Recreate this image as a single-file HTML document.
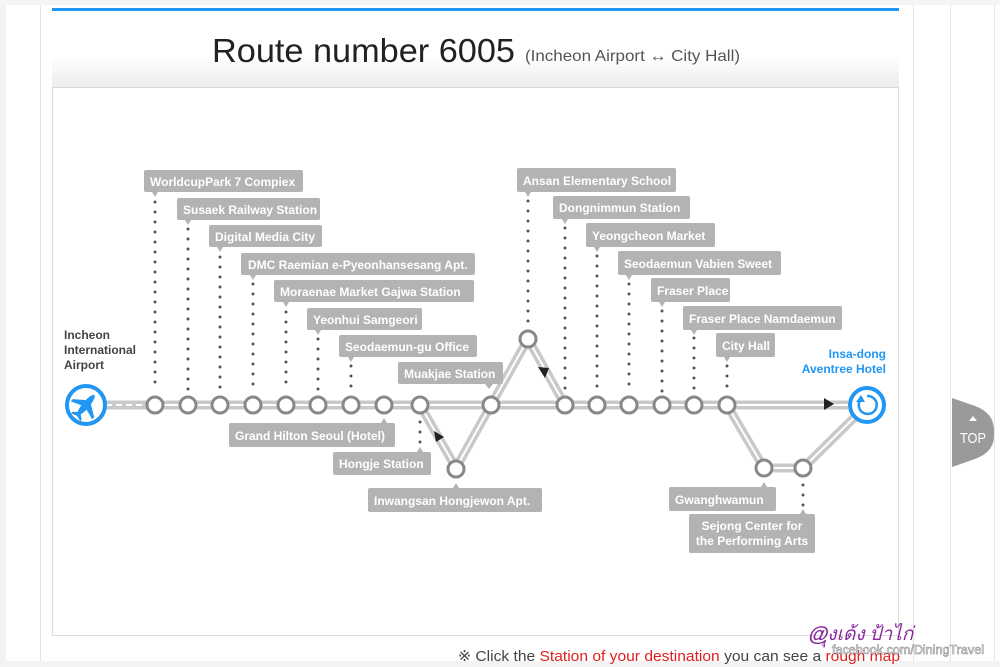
<!DOCTYPE html>
<html><head><meta charset="utf-8"><style>
html,body{margin:0;padding:0;background:#fff;}
body{width:1000px;height:667px;overflow:hidden;position:relative;font-family:"Liberation Sans",sans-serif;}
</style></head><body>
<svg width="1000" height="667" viewBox="0 0 1000 667" xmlns="http://www.w3.org/2000/svg" style="position:absolute;left:0;top:0">
<defs>
<linearGradient id="hg" x1="0" y1="0" x2="0" y2="1">
<stop offset="0" stop-color="#fff"/><stop offset="0.6" stop-color="#fff"/><stop offset="1" stop-color="#ececec"/>
</linearGradient>
</defs>
<rect x="0" y="0" width="1000" height="667" fill="#fff"/>
<rect x="0" y="0" width="6" height="667" fill="#f3f3f3"/>
<line x1="40.5" y1="0" x2="40.5" y2="662" stroke="#e2e2e2"/>
<line x1="913.5" y1="0" x2="913.5" y2="662" stroke="#e2e2e2"/>
<line x1="950.5" y1="0" x2="950.5" y2="662" stroke="#e6e6e6"/>
<line x1="994.5" y1="0" x2="994.5" y2="662" stroke="#e6e6e6"/>
<rect x="0" y="661" width="1000" height="6" fill="#f3f3f3"/>
<rect x="0" y="0" width="1000" height="5" fill="#f5f5f5"/>
<rect x="52.5" y="8.5" width="846" height="627" fill="#fff" stroke="#dcdcdc"/>
<rect x="52" y="11" width="847" height="76" fill="url(#hg)"/>
<rect x="52" y="8" width="847" height="3" fill="#2196f3"/>
<line x1="52" y1="87.5" x2="899" y2="87.5" stroke="#d8d8d8"/>
<text x="212" y="62" font-size="33" fill="#222" textLength="303" lengthAdjust="spacingAndGlyphs">Route number 6005</text>
<text x="525" y="61" font-size="16" fill="#555" textLength="215" lengthAdjust="spacingAndGlyphs">(Incheon Airport ↔ City Hall)</text>

<g stroke="#555" stroke-width="3" stroke-linecap="round" stroke-dasharray="0 10" fill="none">
<line x1="155" y1="202" x2="155" y2="392"/>
<line x1="188" y1="229" x2="188" y2="392"/>
<line x1="220" y1="257" x2="220" y2="392"/>
<line x1="253" y1="284" x2="253" y2="392"/>
<line x1="286" y1="312" x2="286" y2="392"/>
<line x1="318" y1="339" x2="318" y2="392"/>
<line x1="351" y1="366" x2="351" y2="392"/>
<line x1="528" y1="201" x2="528" y2="325"/>
<line x1="565" y1="228" x2="565" y2="392"/>
<line x1="597" y1="256" x2="597" y2="392"/>
<line x1="629" y1="284" x2="629" y2="392"/>
<line x1="662" y1="311" x2="662" y2="392"/>
<line x1="694" y1="338" x2="694" y2="392"/>
<line x1="727" y1="366" x2="727" y2="392"/>
<line x1="420" y1="422" x2="420" y2="445"/>
<line x1="803" y1="485" x2="803" y2="508"/>
</g>

<g fill="none" stroke-linejoin="round">
<g stroke="#c9c9c9" stroke-width="9">
<line x1="106" y1="405" x2="155" y2="405"/>
<polyline points="155,405 848,405"/>
<polyline points="420,405 456,468 491,405 528,339 565,405"/>
<polyline points="727,405 764,468 803,468 867,405"/>
</g>
<g stroke="#fff" stroke-width="2">
<line x1="106" y1="405" x2="155" y2="405" stroke-dasharray="6 4"/>
<polyline points="155,405 848,405"/>
<polyline points="420,405 456,468 491,405 528,339 565,405"/>
<polyline points="727,405 764,468 803,468 867,405"/>
</g>
</g>
<polygon points="434,431 444,437 436,442" fill="#222"/>
<polygon points="538,367 549,368 545,378" fill="#222"/>
<polygon points="824,398 834,404 824,410" fill="#222"/>

<g fill="#fff" stroke="#888" stroke-width="3">
<circle cx="155" cy="405" r="8"/><circle cx="188" cy="405" r="8"/><circle cx="220" cy="405" r="8"/>
<circle cx="253" cy="405" r="8"/><circle cx="286" cy="405" r="8"/><circle cx="318" cy="405" r="8"/>
<circle cx="351" cy="405" r="8"/><circle cx="384" cy="405" r="8"/><circle cx="420" cy="405" r="8"/>
<circle cx="456" cy="469" r="8"/><circle cx="491" cy="405" r="8"/><circle cx="528" cy="339" r="8"/>
<circle cx="565" cy="405" r="8"/><circle cx="597" cy="405" r="8"/><circle cx="629" cy="405" r="8"/>
<circle cx="662" cy="405" r="8"/><circle cx="694" cy="405" r="8"/><circle cx="727" cy="405" r="8"/>
<circle cx="764" cy="468" r="8"/><circle cx="803" cy="468" r="8"/>
</g>
<circle cx="86" cy="405" r="19" fill="#fff" stroke="#2196f3" stroke-width="4"/>
<g fill="#2196f3" transform="rotate(40 86 405)">
<ellipse cx="86" cy="405" rx="3.5" ry="13"/>
<polygon points="86,399 72,409 72,412 86,407 100,412 100,409"/>
<polygon points="86,414 80,419 80,421 86,419 92,421 92,419"/>
</g>
<circle cx="867" cy="405" r="17" fill="#fff" stroke="#2196f3" stroke-width="4"/>
<path d="M861,399 A9,9 0 1 0 867,396" fill="none" stroke="#2196f3" stroke-width="2.5"/>
<polygon points="856,402 861,395 865,402" fill="#2196f3"/>

<text font-size="12" font-weight="bold" fill="#444">
<tspan x="64" y="339">Incheon</tspan><tspan x="64" y="354">International</tspan><tspan x="64" y="369">Airport</tspan>
</text>
<text font-size="12" font-weight="bold" fill="#2196f3" text-anchor="end">
<tspan x="886" y="358">Insa-dong</tspan><tspan x="886" y="373">Aventree Hotel</tspan>
</text>

<g fill="#b3b3b3">
<rect x="144" y="170" width="159" height="22" rx="2"/><polygon points="152,192 158,192 155,197"/>
<rect x="177" y="198" width="143" height="22" rx="2"/><polygon points="185,220 191,220 188,225"/>
<rect x="209" y="225" width="113" height="22" rx="2"/><polygon points="217,247 223,247 220,252"/>
<rect x="241" y="253" width="234" height="22" rx="2"/><polygon points="250,275 256,275 253,280"/>
<rect x="274" y="280" width="200" height="22" rx="2"/><polygon points="283,302 289,302 286,307"/>
<rect x="307" y="308" width="115" height="22" rx="2"/><polygon points="315,330 321,330 318,335"/>
<rect x="339" y="335" width="138" height="22" rx="2"/><polygon points="348,357 354,357 351,362"/>
<rect x="398" y="362" width="105" height="22" rx="2"/><polygon points="485,384 493,384 489,389"/>
<rect x="229" y="423" width="166" height="24" rx="2"/><polygon points="381,423 387,423 384,418"/>
<rect x="333" y="452" width="98" height="23" rx="2"/><polygon points="417,452 423,452 420,447"/>
<rect x="368" y="488" width="174" height="24" rx="2"/><polygon points="453,488 459,488 456,483"/>
<rect x="517" y="168" width="159" height="24" rx="2"/><polygon points="525,192 531,192 528,197"/>
<rect x="553" y="196" width="137" height="23" rx="2"/><polygon points="562,219 568,219 565,224"/>
<rect x="586" y="223" width="129" height="24" rx="2"/><polygon points="594,247 600,247 597,252"/>
<rect x="618" y="251" width="163" height="24" rx="2"/><polygon points="626,275 632,275 629,280"/>
<rect x="651" y="278" width="79" height="24" rx="2"/><polygon points="659,302 665,302 662,307"/>
<rect x="683" y="306" width="159" height="24" rx="2"/><polygon points="691,330 697,330 694,335"/>
<rect x="716" y="333" width="59" height="24" rx="2"/><polygon points="724,357 730,357 727,362"/>
<rect x="669" y="487" width="107" height="24" rx="2"/><polygon points="761,487 767,487 764,482"/>
<rect x="689" y="514" width="126" height="39" rx="2"/><polygon points="800,514 806,514 803,509"/>
</g>
<g font-size="12" font-weight="bold" fill="#fff">
<text x="150" y="186">WorldcupPark 7 Compiex</text>
<text x="183" y="214">Susaek Railway Station</text>
<text x="215" y="241">Digital Media City</text>
<text x="248" y="269">DMC Raemian e-Pyeonhansesang Apt.</text>
<text x="280" y="296">Moraenae Market Gajwa Station</text>
<text x="313" y="324">Yeonhui Samgeori</text>
<text x="345" y="351">Seodaemun-gu Office</text>
<text x="404" y="378">Muakjae Station</text>
<text x="235" y="440">Grand Hilton Seoul (Hotel)</text>
<text x="339" y="468">Hongje Station</text>
<text x="374" y="505">Inwangsan Hongjewon Apt.</text>
<text x="523" y="185">Ansan Elementary School</text>
<text x="559" y="212">Dongnimmun Station</text>
<text x="592" y="240">Yeongcheon Market</text>
<text x="624" y="268">Seodaemun Vabien Sweet</text>
<text x="657" y="295">Fraser Place</text>
<text x="689" y="323">Fraser Place Namdaemun</text>
<text x="722" y="350">City Hall</text>
<text x="675" y="504">Gwanghwamun</text>
<text x="752" y="530" text-anchor="middle">Sejong Center for</text>
<text x="752" y="545" text-anchor="middle">the Performing Arts</text>
</g>

<path d="M952,398 L975,406 Q994,413 994,430 L994,436 Q994,452 975,459 L952,467 Z" fill="#9a9a9a"/>
<polygon points="969,421 973,416 977,421" fill="#fff"/>
<text x="973" y="443" font-size="15" fill="#fff" text-anchor="middle" textLength="26" lengthAdjust="spacingAndGlyphs">TOP</text>

<text x="458" y="661" font-size="15" fill="#444" textLength="442" lengthAdjust="spacingAndGlyphs">※ Click the <tspan fill="#e02020">Station of your destination</tspan> you can see a <tspan fill="#e02020">rough map</tspan></text>
<text x="808" y="640" font-size="19" fill="#8a2aa0" font-family="Liberation Serif, serif" font-style="italic">@ฺุงเด้ง ป้าไก่</text>
<text x="832" y="654" font-size="13" fill="#fff" stroke="#888" stroke-width="0.6" textLength="152" lengthAdjust="spacingAndGlyphs">facebook.com/DiningTravel</text>
</svg>
</body></html>
